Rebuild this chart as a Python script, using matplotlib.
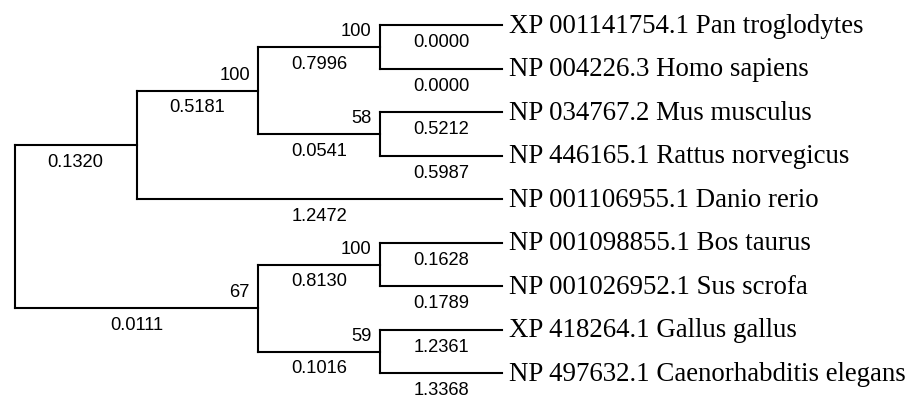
import matplotlib
matplotlib.use("Agg")
import matplotlib.pyplot as plt


# leaves, top to bottom
leaf_keys = ["pan", "homo", "mus", "rattus", "danio", "bos", "sus", "gallus", "caeno"]
leaf_labels = [
    "XP 001141754.1 Pan troglodytes",
    "NP 004226.3 Homo sapiens",
    "NP 034767.2 Mus musculus",
    "NP 446165.1 Rattus norvegicus",
    "NP 001106955.1 Danio rerio",
    "NP 001098855.1 Bos taurus",
    "NP 001026952.1 Sus scrofa",
    "XP 418264.1 Gallus gallus",
    "NP 497632.1 Caenorhabditis elegans",
]
leaf_lengths = [0.0000, 0.0000, 0.5212, 0.5987, 1.2472, 0.1628, 0.1789, 1.2361, 1.3368]

# internal nodes
clade_keys = ["hominids", "rodents", "mammals", "upper", "bovids", "chick_worm", "lower", "root"]
clade_children = [
    ["pan", "homo"],
    ["mus", "rattus"],
    ["hominids", "rodents"],
    ["mammals", "danio"],
    ["bos", "sus"],
    ["gallus", "caeno"],
    ["bovids", "chick_worm"],
    ["upper", "lower"],
]
clade_lengths = [0.7996, 0.0541, 0.5181, 0.1320, 0.8130, 0.1016, 0.0111, None]
clade_support = [100, 58, 100, None, 100, 59, 67, None]


children = dict(zip(clade_keys, clade_children))
lengths = dict(zip(leaf_keys, leaf_lengths))
lengths.update(zip(clade_keys, clade_lengths))
support = dict(zip(clade_keys, clade_support))

ypos = {k: i for i, k in enumerate(leaf_keys)}
height = {k: 0 for k in leaf_keys}


def layout(key):
    if key in height:
        return
    for c in children[key]:
        layout(c)
    height[key] = 1 + max(height[c] for c in children[key])
    ys = [ypos[c] for c in children[key]]
    ypos[key] = (ys[0] + ys[-1]) / 2


layout("root")
top = height["root"]
xpos = {k: top - h for k, h in height.items()}

small_font = dict(family="Liberation Sans", fontsize=13.2)
leaf_font = dict(family="Liberation Serif", fontsize=19.4)

fig = plt.figure(figsize=(9.17, 4.01), dpi=100)
ax = fig.add_axes([0, 0, 1, 1])
lw = 1.5

for key in clade_keys:
    kids = children[key]
    px = xpos[key]
    ax.plot([px, px], [ypos[kids[0]], ypos[kids[-1]]], color="black", lw=lw,
            solid_capstyle="projecting")
    for c in kids:
        cx, cy = xpos[c], ypos[c]
        ax.plot([px, cx], [cy, cy], color="black", lw=lw, solid_capstyle="projecting")
        ax.annotate(f"{lengths[c]:.4f}", ((px + cx) / 2, cy), xytext=(0, -12.4),
                    textcoords="offset points", ha="center", va="center", **small_font)
        if support.get(c) is not None:
            ax.annotate(str(support[c]), (cx, cy), xytext=(-6.1, 11.0),
                        textcoords="offset points", ha="right", va="center", **small_font)

for key, label in zip(leaf_keys, leaf_labels):
    ax.annotate(label, (xpos[key], ypos[key]), xytext=(5.4, -0.8),
                textcoords="offset points", ha="left", va="center", **leaf_font)

ax.set_xlim(-0.1207, 7.408)
ax.set_ylim(8.637, -0.582)
ax.axis("off")

fig.savefig("out.png", dpi=100)
